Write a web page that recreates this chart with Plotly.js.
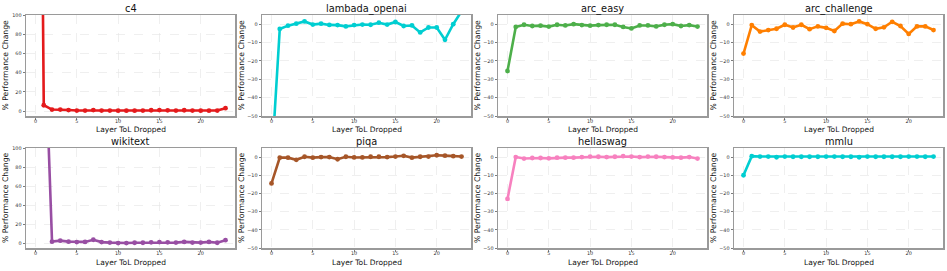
<!DOCTYPE html>
<html>
<head>
<meta charset="utf-8">
<script src="https://cdn.plot.ly/plotly-3.0.1.min.js"></script>
<style>html,body{margin:0;padding:0;background:#fff;}#chart{width:947px;height:271px;}</style>
</head>
<body>
<div id="chart"></div>
<script>
const layers = [0,1,2,3,4,5,6,7,8,9,10,11,12,13,14,15,16,17,18,19,20,21,22,23];
const titles = ["c4","lambada_openai","arc_easy","arc_challenge","wikitext","piqa","hellaswag","mmlu"];
const c4 = [1000,6,1.5,1.5,1,0.5,0.5,1,0.5,0.5,0.3,0.3,0.3,0.5,0.8,1,0.7,0.5,0.8,0.5,0.3,0.3,0.5,3];
const lambada = [-77,-2.6,-0.8,0.3,1.5,-0.2,0.3,-0.4,-0.5,-1.2,-0.5,-0.2,-0.3,0.8,-0.2,1.2,-1,-0.7,-4.5,-1.8,-1.8,-8.5,0,7];
const arcEasy = [-25.5,-1.5,-0.3,-1,-0.8,-1.3,-0.3,-0.7,0,-0.5,-0.8,-0.5,-0.3,-0.3,-1.5,-2.3,-0.7,-0.7,-1.2,-0.3,0,-1,-0.5,-1.3];
const arcChallenge = [-16,-0.5,-4,-3.2,-2.5,-0.3,-1.8,-0.3,-2.7,-1.2,-2,-3.7,0.3,0,1.5,0,-2.5,-1.7,1.3,-1,-5.3,-1.2,-1.2,-3.2];
const wikitext = [3000,250,1.5,2.5,1.5,1,1.2,3.5,1,0.5,0,0,0.3,0.3,0.8,1,0.8,0.5,1.2,0.5,0.5,1.2,0.3,3];
const piqa = [-14.5,-0.3,-0.3,-1.5,0.2,-0.3,0,0,-1.2,0.2,-0.2,-0.2,0.2,0.2,0,0.3,0.7,-0.3,0.2,0.3,1,0.8,0.5,0.3];
const hellaswag = [-23,0,-0.8,-0.5,-0.5,-0.7,-0.3,-0.3,-0.3,0,0.3,0.2,0,0.2,0.5,0.3,0,0.3,0.2,0,-0.2,-0.3,0,-0.8];
const mmlu = [-10,0.5,0.3,0.3,-0.1,0.3,0.2,0.2,0.2,0.2,0.3,0.3,0.2,0.2,-0.1,0.3,0.2,0.2,0.2,0.2,0.3,0.3,0.2,0.3];
const colors = ["#e41a1c","#00ced1","#4daf4a","#ff7f00","#984ea3","#a65628","#f781bf","#00ced1"];
const series = [c4,lambada,arcEasy,arcChallenge,wikitext,piqa,hellaswag,mmlu];

const W = 947, H = 271;
const colPx = [[26,235],[262,471],[498,707],[734,943]];
const rowPx = [[15,116],[148,248]];
const font = "DejaVu Sans, Arial, sans-serif";

const data = [];
const layout = {
  width: W, height: H,
  margin: {l:0, r:0, t:0, b:0},
  paper_bgcolor: "#fff", plot_bgcolor: "#fff",
  showlegend: false,
  font: {family: font, color: "#222"},
  annotations: []
};

for (let i = 0; i < 8; i++) {
  const r = Math.floor(i / 4), c = i % 4;
  const ax = i + 1;
  const sfx = ax === 1 ? "" : String(ax);
  const big = (i === 0 || i === 4);
  data.push({
    x: layers, y: series[i], type: "scatter", mode: "lines+markers",
    xaxis: "x" + sfx, yaxis: "y" + sfx,
    line: {color: colors[i], width: 2.6},
    marker: {color: colors[i], size: 4.8},
    cliponaxis: true
  });
  const common = {
    showline: true, mirror: true, linecolor: "#9a9a9a", linewidth: 1.5,
    ticks: "outside", ticklen: 2, tickwidth: 0.7, tickcolor: "#444",
    showgrid: true, gridcolor: "#e4e4e4", griddash: "dash", gridwidth: 0.6,
    zeroline: false, tickfont: {size: 4.9, color: "#333", family: font},
    fixedrange: true
  };
  layout["xaxis" + sfx] = Object.assign({}, common, {
    domain: [colPx[c][0] / W, colPx[c][1] / W],
    anchor: "y" + sfx, ticklabelstandoff: -2,
    range: [-1.15, 24.15], tickvals: [0,5,10,15,20], ticktext: ["0","5","10","15","20"]
  });
  layout["yaxis" + sfx] = Object.assign({}, common, {
    domain: [(H - rowPx[r][1]) / H, (H - rowPx[r][0]) / H],
    anchor: "x" + sfx,
    range: big ? [-5.2, 100] : [-50, 5],
    tickvals: big ? [0,20,40,60,80,100] : [-50,-40,-30,-20,-10,0],
    ticktext: big ? ["0","20","40","60","80","100"] : ["\u221250","\u221240","\u221230","\u221220","\u221210","0"]
  });
  const cx = (colPx[c][0] + colPx[c][1]) / 2 / W;
  layout.annotations.push({
    text: titles[i], xref: "paper", yref: "paper",
    x: cx, y: 1 - (r === 0 ? 9.0 : 141.5) / H, xanchor: "center", yanchor: "middle",
    showarrow: false, font: {size: 9.8, color: "#111", family: font}
  });
  layout.annotations.push({
    text: "Layer ToL Dropped", xref: "paper", yref: "paper",
    x: cx, y: 1 - (r === 0 ? 129.5 : 262.5) / H, xanchor: "center", yanchor: "middle",
    showarrow: false, font: {size: 7.5, color: "#111", family: font}
  });
  layout.annotations.push({
    text: "% Performance Change", xref: "paper", yref: "paper", textangle: -90,
    x: (colPx[c][0] - 21) / W, y: 1 - ((rowPx[r][0] + rowPx[r][1]) / 2) / H,
    xanchor: "center", yanchor: "middle",
    showarrow: false, font: {size: 7.7, color: "#111", family: font}
  });
}

Plotly.newPlot("chart", data, layout, {displayModeBar: false, staticPlot: true});
</script>
</body>
</html>
